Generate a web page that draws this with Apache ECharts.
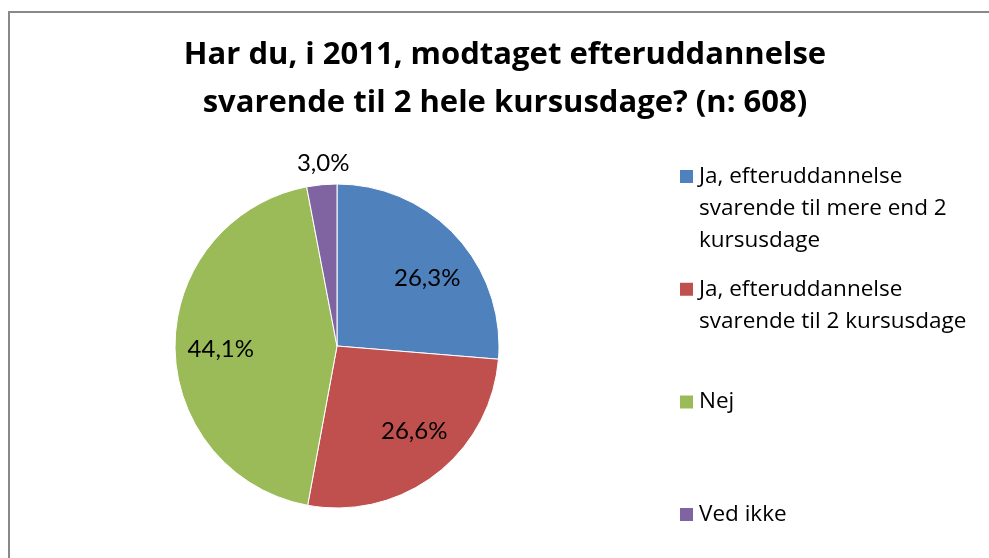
<!DOCTYPE html>
<html>
<head>
<meta charset="utf-8">
<script src="https://cdn.jsdelivr.net/npm/echarts@6/dist/echarts.min.js"></script>
<style>
html,body{margin:0;padding:0;background:#fff;}
#chart{width:989px;height:558px;}
</style>
</head>
<body>
<div id="chart"></div>
<script>
const titleText = 'Har du, i 2011, modtaget efteruddannelse\nsvarende til 2 hele kursusdage? (n: 608)';
const categories = [
  'Ja, efteruddannelse svarende til mere end 2 kursusdage',
  'Ja, efteruddannelse svarende til 2 kursusdage',
  'Nej',
  'Ved ikke'
];
const legendLines = [
  ['Ja, efteruddannelse', 'svarende til mere end 2', 'kursusdage'],
  ['Ja, efteruddannelse', 'svarende til 2 kursusdage'],
  ['Nej'],
  ['Ved ikke']
];
const values = [26.3, 26.6, 44.1, 3.0];
const colors = ['#4F81BD', '#C0504D', '#9BBB59', '#8064A2'];

const fmt = v => v.toFixed(1).replace('.', ',') + '%';

// layout
const center = [337, 346];
const R = 162;
const legendLH = 32;
const legendFirst = 176.5;
const legendStep = 112.7;
const labelNudge = [[4, 12], [6, -8], [1, 3], [4, 6]];

const chart = echarts.init(document.getElementById('chart'), null, {renderer: 'canvas'});

const legends = categories.map((name, i) => {
  const n = legendLines[i].length;
  const lead = new Array(n - 1).fill('').concat(legendLines[i]);
  return {
    data: [name],
    orient: 'vertical',
    left: 678,
    top: legendFirst + i * legendStep - (2 * n - 1) * legendLH / 2,
    padding: 0,
    itemWidth: 15,
    itemHeight: 15,
    itemGap: 0,
    icon: 'rect',
    selectedMode: false,
    formatter: () => lead.join('\n'),
    textStyle: {
      fontFamily: 'Open Sans',
      fontSize: 22.5,
      color: '#000',
      lineHeight: legendLH
    }
  };
});

const labelFont = {fontFamily: 'Lato', fontSize: 24, color: '#000'};
const nudge = p => ({dx: labelNudge[p.dataIndex][0], dy: labelNudge[p.dataIndex][1]});

chart.setOption({
  animation: false,
  color: colors,
  title: {
    text: titleText,
    left: 505,
    textAlign: 'center',
    top: 31,
    padding: 0,
    textStyle: {fontFamily: 'Open Sans', fontWeight: 'bold', fontSize: 31, color: '#000', lineHeight: 48}
  },
  graphic: [{
    type: 'rect',
    shape: {x: 9, y: 12, width: 1100, height: 700},
    style: {fill: 'none', stroke: '#898989', lineWidth: 2},
    silent: true,
    z: -10
  }],
  legend: legends,
  series: [
    {
      type: 'pie',
      center: center,
      radius: [0, R],
      startAngle: 90,
      clockwise: true,
      silent: true,
      label: {show: false},
      labelLine: {show: false},
      itemStyle: {borderColor: '#ffffff', borderWidth: 1},
      emphasis: {disabled: true},
      data: categories.map((c, i) => ({name: c, value: values[i], itemStyle: {color: colors[i]}}))
    },
    {
      type: 'pie',
      center: center,
      radius: [R * 0.41, R],
      startAngle: 90,
      clockwise: true,
      silent: true,
      legendHoverLink: false,
      itemStyle: {color: 'rgba(0,0,0,0)'},
      emphasis: {disabled: true},
      label: Object.assign({show: true, position: 'inside', formatter: p => fmt(p.value)}, labelFont),
      labelLine: {show: false},
      labelLayout: nudge,
      data: categories.map((c, i) => ({
        name: c, value: values[i],
        label: {show: i < 3}
      }))
    },
    {
      type: 'pie',
      center: center,
      radius: [R, R * 1.3],
      startAngle: 90,
      clockwise: true,
      silent: true,
      legendHoverLink: false,
      itemStyle: {color: 'rgba(0,0,0,0)'},
      emphasis: {disabled: true},
      label: Object.assign({show: true, position: 'inside', formatter: p => fmt(p.value)}, labelFont),
      labelLine: {show: false},
      labelLayout: nudge,
      data: categories.map((c, i) => ({
        name: c, value: values[i],
        label: {show: i === 3}
      }))
    }
  ]
});
</script>
</body>
</html>
